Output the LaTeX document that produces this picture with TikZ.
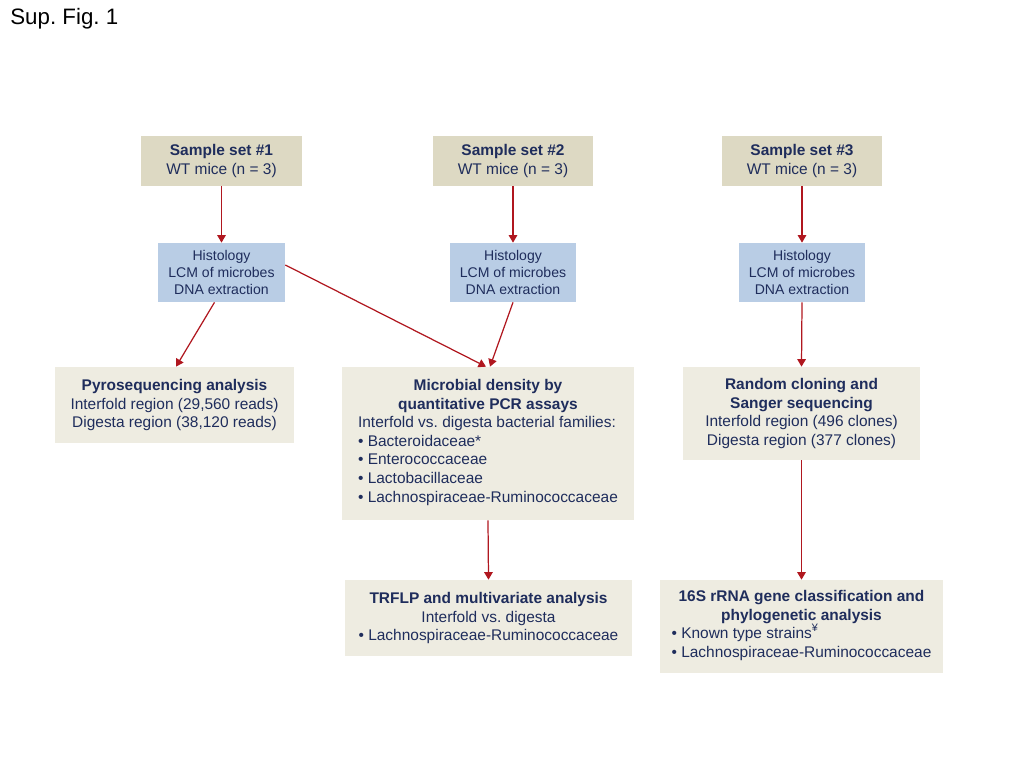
\documentclass[tikz,border=0pt]{standalone}
\usepackage{fontspec}
\setmainfont{Liberation Sans}
\usetikzlibrary{arrows.meta}
\definecolor{tanbox}{HTML}{DDD9C3}
\definecolor{bluebox}{HTML}{B9CDE5}
\definecolor{greybox}{HTML}{EEECE1}
\definecolor{navy}{HTML}{1F2D5C}
\definecolor{arrowred}{HTML}{B0171F}

\begin{document}
\frenchspacing
\begin{tikzpicture}[x=0.02cm,y=-0.02cm,
    box/.style={inner sep=0pt,align=center,text=navy,font=\fontsize{8.8}{10.6}\selectfont},
    setbox/.style={box,fill=tanbox,minimum width=3.22cm,minimum height=1cm},
    labbox/.style={box,fill=bluebox,minimum width=2.54cm,minimum height=1.18cm,font=\fontsize{8}{9.6}\selectfont},
    link/.style={draw=arrowred,line width=0.7pt,-{Triangle[length=1.5mm,width=1.7mm]}}]
  \useasboundingbox (0,0) rectangle (1024,768);
  \node[anchor=west,inner sep=0pt,font=\fontsize{12.7}{15}\selectfont] (fig) at (10,19) {Sup. Fig. 1};
  % sample sets and lab work
  \foreach \n/\x in {1/221.5,2/513,3/802}{
    \node[setbox] (S\n) at (\x,161) {\textbf{Sample set \#\n}\\WT mice (n = 3)};
    \node[labbox] (H\n) at (\x,272.5) {Histology\\LCM of microbes\\DNA extraction};
    \draw[link] (S\n) -- (H\n);
  }
  % analyses
  \node[box,fill=greybox,minimum width=4.78cm,minimum height=1.52cm] (pyro) at (174.5,405)
    {\textbf{Pyrosequencing analysis}\\Interfold region (29,560 reads)\\Digesta region (38,120 reads)};
  \node[box,fill=greybox,minimum width=5.84cm,minimum height=3.06cm] (qpcr) at (488,443.5)
    {\textbf{Microbial density by}\\\textbf{quantitative PCR assays}\\
     \begin{tabular}[t]{@{}l@{}}Interfold vs. digesta bacterial families:\\
     • Bacteroidaceae*\\• Enterococcaceae\\• Lactobacillaceae\\• Lachnospiraceae-Ruminococcaceae\end{tabular}};
  \node[box,fill=greybox,minimum width=4.74cm,minimum height=1.86cm] (clone) at (801.5,413.5)
    {\textbf{Random cloning and}\\\textbf{Sanger sequencing}\\Interfold region (496 clones)\\Digesta region (377 clones)};
  \node[box,fill=greybox,minimum width=5.74cm,minimum height=1.52cm] (trflp) at (488.5,618)
    {\textbf{TRFLP and multivariate analysis}\\Interfold vs. digesta\\• Lachnospiraceae-Ruminococcaceae};
  \node[box,fill=greybox,minimum width=5.66cm,minimum height=1.86cm] (rrna) at (801.5,626.5)
    {\textbf{16S rRNA gene classification and}\\\textbf{phylogenetic analysis}\\
     \begin{tabular}[t]{@{}l@{}}• Known type strains\textsuperscript{¥}\\• Lachnospiraceae-Ruminococcaceae\end{tabular}};
  \draw[link] ([xshift=-0.14cm]H1.south) -- ([xshift=0.03cm]pyro.north);
  \draw[link] ([yshift=0.15cm]H1.east) -- ([xshift=-0.04cm]qpcr.north);
  \draw[link] (H2.south) -- ([xshift=0.04cm]qpcr.north);
  \draw[link] (H3.south) -- (clone.north);
  \draw[link] (qpcr.south) -- (trflp.north);
  \draw[link] (clone.south) -- (rrna.north);
\end{tikzpicture}
\end{document}
